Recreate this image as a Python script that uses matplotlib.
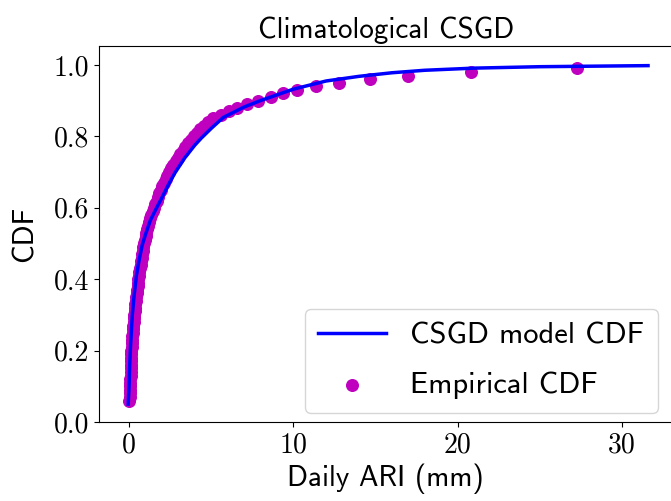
import matplotlib
matplotlib.use("Agg")
import matplotlib.pyplot as plt

plt.rcParams["axes.formatter.use_mathtext"] = True

SANS = "cmss10"
SERIF = "cmr10"

# CSGD model CDF
model_x = [-0.05, 0.0, 0.05, 0.1, 0.2, 0.3, 0.45, 0.6, 0.8, 1.0, 1.3, 1.68, 2.0, 2.4,
           2.8, 3.4, 4.0, 4.4, 5.0, 5.74, 7.0, 8.0, 10.0, 12.0, 14.0, 16.0, 18.0, 21.0,
           25.0, 31.6]
model_cdf = [0.05, 0.10, 0.17, 0.22, 0.30, 0.35, 0.41, 0.45, 0.495, 0.525, 0.565, 0.60,
             0.628, 0.665, 0.698, 0.74, 0.775, 0.795, 0.822, 0.853, 0.882, 0.90, 0.932,
             0.955, 0.968, 0.978, 0.985, 0.991, 0.995, 0.998]

# empirical CDF points
emp_x = [0.02, 0.04, 0.05, 0.06, 0.07, 0.08, 0.08, 0.09, 0.10, 0.10,
         0.11, 0.12, 0.13, 0.14, 0.15, 0.16, 0.18, 0.19, 0.21, 0.22,
         0.24, 0.26, 0.28, 0.30, 0.32, 0.34, 0.36, 0.39, 0.41, 0.44,
         0.46, 0.49, 0.52, 0.54, 0.57, 0.60, 0.63, 0.66, 0.70, 0.73,
         0.77, 0.80, 0.84, 0.88, 0.92, 0.96, 1.01, 1.06, 1.12, 1.18,
         1.24, 1.30, 1.36, 1.43, 1.52, 1.60, 1.68, 1.76, 1.85, 1.94,
         2.03, 2.13, 2.23, 2.34, 2.46, 2.58, 2.70, 2.83, 2.97, 3.11,
         3.26, 3.42, 3.59, 3.77, 3.96, 4.15, 4.35, 4.55, 4.78, 5.10,
         5.60, 6.10, 6.60, 7.20, 7.87, 8.65, 9.40, 10.2, 11.4, 12.8,
         14.7, 17.0, 20.8, 27.3]
emp_cdf = [0.06, 0.07, 0.08, 0.09, 0.10, 0.11, 0.12, 0.13, 0.14, 0.15,
           0.16, 0.17, 0.18, 0.19, 0.20, 0.21, 0.22, 0.23, 0.24, 0.25,
           0.26, 0.27, 0.28, 0.29, 0.30, 0.31, 0.32, 0.33, 0.34, 0.35,
           0.36, 0.37, 0.38, 0.39, 0.40, 0.41, 0.42, 0.43, 0.44, 0.45,
           0.46, 0.47, 0.48, 0.49, 0.50, 0.51, 0.52, 0.53, 0.54, 0.55,
           0.56, 0.57, 0.58, 0.59, 0.60, 0.61, 0.62, 0.63, 0.64, 0.65,
           0.66, 0.67, 0.68, 0.69, 0.70, 0.71, 0.72, 0.73, 0.74, 0.75,
           0.76, 0.77, 0.78, 0.79, 0.80, 0.81, 0.82, 0.83, 0.84, 0.85,
           0.86, 0.87, 0.88, 0.89, 0.90, 0.91, 0.92, 0.93, 0.94, 0.95,
           0.96, 0.97, 0.98, 0.99]

x_ticks = [0, 10, 20, 30]
y_ticks = [0.0, 0.2, 0.4, 0.6, 0.8, 1.0]

fig = plt.figure(figsize=(6.71, 5.01), dpi=100)
ax = fig.add_axes([0.1475, 0.1577, 0.855, 0.7505])

ax.plot(model_x, model_cdf, color="b", lw=2.5, label="CSGD model CDF", zorder=3)
ax.scatter(emp_x, emp_cdf, s=70, color="m", label="Empirical CDF", zorder=2)

ax.set_xlim(-1.83, 33.1)
ax.set_ylim(0, 1.053)
ax.set_xticks(x_ticks)
ax.set_xticklabels([str(t) for t in x_ticks], family=SERIF, fontsize=20)
ax.set_yticks(y_ticks)
ax.set_yticklabels([f"{t:.1f}" for t in y_ticks], family=SERIF, fontsize=20)

ax.set_xlabel("Daily ARI (mm)", family=SANS, fontsize=21, labelpad=4)
ax.set_ylabel("CDF", family=SANS, fontsize=21, labelpad=11)
ax.set_title("Climatological CSGD", family=SANS, fontsize=21)

ax.legend(loc="lower right", bbox_to_anchor=(0.9806, 0.1756), bbox_transform=fig.transFigure,
          borderaxespad=0, handlelength=2.2, handletextpad=0.8, borderpad=0.45,
          labelspacing=0.72, prop={"family": SANS, "size": 22})

fig.savefig("out.png", dpi=100)
